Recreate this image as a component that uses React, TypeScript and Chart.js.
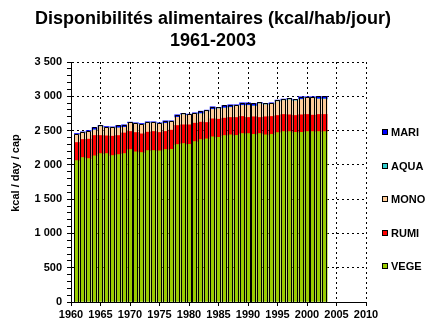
import { useEffect, useRef } from "react";
import { Chart, registerables } from "chart.js";

Chart.register(...registerables);

// Food supply per capita, kcal/day, 1961-2003, split by origin
const YEARS = [
  1961, 1962, 1963, 1964, 1965, 1966, 1967, 1968, 1969, 1970,
  1971, 1972, 1973, 1974, 1975, 1976, 1977, 1978, 1979, 1980,
  1981, 1982, 1983, 1984, 1985, 1986, 1987, 1988, 1989, 1990,
  1991, 1992, 1993, 1994, 1995, 1996, 1997, 1998, 1999, 2000,
  2001, 2002, 2003,
];

const VEGE = [
  2063, 2107, 2092, 2131, 2165, 2165, 2136, 2150, 2165, 2224,
  2189, 2180, 2209, 2209, 2204, 2224, 2228, 2297, 2311, 2301,
  2340, 2369, 2379, 2408, 2403, 2428, 2437, 2432, 2457, 2457,
  2447, 2457, 2437, 2447, 2471, 2486, 2486, 2476, 2476, 2486,
  2486, 2486, 2486,
];

const RUMI = [
  263, 263, 283, 297, 263, 258, 282, 278, 300, 263,
  283, 272, 268, 278, 268, 263, 278, 277, 273, 283,
  268, 254, 239, 263, 263, 253, 254, 259, 249, 234,
  254, 234, 264, 259, 249, 249, 244, 244, 254, 249,
  239, 249, 249,
];

const MONO = [
  114, 94, 109, 80, 129, 119, 119, 109, 82, 119,
  124, 134, 134, 124, 124, 118, 119, 119, 148, 139,
  132, 121, 161, 137, 152, 146, 146, 166, 160, 175,
  154, 198, 174, 178, 203, 203, 218, 213, 222, 237,
  247, 222, 222,
];

const AQUA = [
  2, 2, 2, 2, 2, 2, 2, 2, 2, 2,
  2, 2, 2, 2, 2, 2, 2, 2, 2, 2,
  4, 4, 4, 4, 4, 4, 4, 4, 4, 4,
  6, 6, 6, 6, 6, 6, 6, 6, 6, 6,
  6, 6, 6,
];

const MARI = [
  15, 15, 15, 35, 15, 15, 15, 35, 35, 15,
  15, 15, 15, 15, 15, 35, 15, 35, 15, 15,
  15, 35, 15, 35, 15, 35, 35, 15, 35, 35,
  35, 15, 15, 15, 15, 15, 15, 15, 35, 15,
  15, 35, 35,
];

const TITLE_LINES = ["Disponibilités alimentaires (kcal/hab/jour)", "1961-2003"];
const Y_TITLE = "kcal / day / cap";

const FONT = "'Liberation Sans', Arial, Helvetica, sans-serif";

// stack order bottom -> top
const SERIES = [
  { label: "VEGE", values: VEGE, color: "#99CC00" },
  { label: "RUMI", values: RUMI, color: "#FF0000" },
  { label: "MONO", values: MONO, color: "#FFCC99" },
  { label: "AQUA", values: AQUA, color: "#33CCCC" },
  { label: "MARI", values: MARI, color: "#0000FF" },
];

const formatThousands = (v: number) =>
  v >= 1000 ? `${Math.floor(v / 1000)} ${String(v % 1000).padStart(3, "0")}` : String(v);

// black outline around each whole stacked column
const stackOutline = {
  id: "stackOutline",
  afterDatasetsDraw(chart: any) {
    const metas = chart.getSortedVisibleDatasetMetas();
    if (!metas.length) return;
    const first = metas[0];
    const last = metas[metas.length - 1];
    const ctx = chart.ctx;
    ctx.save();
    ctx.strokeStyle = "#000";
    ctx.lineWidth = 1;
    first.data.forEach((el: any, i: number) => {
      const { x, width, base } = el.getProps(["x", "width", "base"], true);
      const top = last.data[i].getProps(["y"], true).y;
      const l = Math.round(x - width / 2) + 0.5;
      const r = Math.round(x + width / 2) - 0.5;
      const t = Math.round(top) + 0.5;
      const b = Math.round(base);
      ctx.beginPath();
      ctx.moveTo(l, b);
      ctx.lineTo(l, t);
      ctx.lineTo(r, t);
      ctx.lineTo(r, b);
      ctx.stroke();
    });
    ctx.restore();
  },
};

// page title centred on the canvas, and the value-axis title
const titles = {
  id: "titles",
  afterDraw(chart: any) {
    const { ctx, width, chartArea } = chart;
    ctx.save();
    ctx.fillStyle = "#000";
    ctx.textAlign = "center";
    ctx.textBaseline = "middle";
    ctx.font = `bold 18px ${FONT}`;
    TITLE_LINES.forEach((line, i) => {
      ctx.fillText(line, width / 2, 19 + i * 21.6);
    });
    ctx.font = `bold 11px ${FONT}`;
    ctx.translate(16, (chartArea.top + chartArea.bottom) / 2 - 9);
    ctx.rotate(-Math.PI / 2);
    ctx.fillText(Y_TITLE, 0, 0);
    ctx.restore();
  },
};

// vertical legend at the right, top series first
const sideLegend = {
  id: "sideLegend",
  afterDraw(chart: any) {
    const { ctx, chartArea } = chart;
    const items = [...chart.data.datasets].reverse();
    ctx.save();
    ctx.font = `bold 11px ${FONT}`;
    ctx.textBaseline = "middle";
    ctx.textAlign = "left";
    items.forEach((ds: any, i: number) => {
      const cy = Math.round(chartArea.top + 70 + i * 33.5);
      const x = Math.round(chartArea.right + 16);
      ctx.fillStyle = ds.backgroundColor;
      ctx.fillRect(x, cy - 3, 6, 6);
      ctx.strokeStyle = "#000";
      ctx.lineWidth = 1;
      ctx.strokeRect(x + 0.5, cy - 2.5, 5, 5);
      ctx.fillStyle = "#000";
      ctx.fillText(ds.label, x + 9, cy + 0.5);
    });
    ctx.restore();
  },
};

export default function App() {
  const canvasRef = useRef<HTMLCanvasElement | null>(null);

  useEffect(() => {
    if (!canvasRef.current) return;
    const tickFont = { family: FONT, size: 11, weight: "bold" as const };

    const chart = new Chart(canvasRef.current, {
      type: "bar",
      data: {
        datasets: SERIES.map((s) => ({
          label: s.label,
          data: YEARS.map((yr, i) => ({ x: yr, y: s.values[i] })),
          backgroundColor: s.color,
          borderWidth: 0,
          barThickness: 5,
        })),
      },
      options: {
        responsive: false,
        animation: false,
        layout: { padding: { left: 0, right: 60, top: 62, bottom: 0 } },
        plugins: {
          legend: { display: false },
          tooltip: { enabled: false },
          title: { display: false },
        },
        scales: {
          x: {
            type: "linear",
            min: 1960,
            max: 2010,
            stacked: true,
            offset: false,
            ticks: {
              stepSize: 5,
              autoSkip: false,
              maxRotation: 0,
              color: "#000",
              font: tickFont,
              padding: 2,
              callback: (v: any) => String(v),
            },
            grid: {
              offset: false,
              color: "#000",
              lineWidth: 1,
              drawTicks: true,
              tickLength: 4,
              tickColor: "#000",
            },
            border: { display: true, color: "#000", width: 1, dash: [2, 3] },
            afterFit: (s: any) => {
              s.height = 22;
            },
          },
          y: {
            stacked: true,
            min: 0,
            max: 3500,
            ticks: {
              stepSize: 100,
              autoSkip: false,
              color: "#000",
              font: tickFont,
              padding: 5,
              callback: (v: any) => (Number(v) % 500 === 0 ? formatThousands(Number(v)) : ""),
            },
            grid: {
              color: (c: any) =>
                c.tick && c.tick.value % 500 === 0 ? "#000" : "rgba(0,0,0,0)",
              lineWidth: 1,
              tickLength: 4,
              tickColor: "#000",
            },
            border: { display: true, color: "#000", width: 1, dash: [2, 3] },
            afterFit: (s: any) => {
              s.width = 71;
            },
          },
        },
      },
      plugins: [stackOutline, titles, sideLegend],
    });

    return () => chart.destroy();
  }, []);

  return (
    <div style={{ position: "absolute", left: 0, top: 0, width: 426, height: 324, background: "#fff" }}>
      <canvas ref={canvasRef} width={426} height={324} />
    </div>
  );
}
